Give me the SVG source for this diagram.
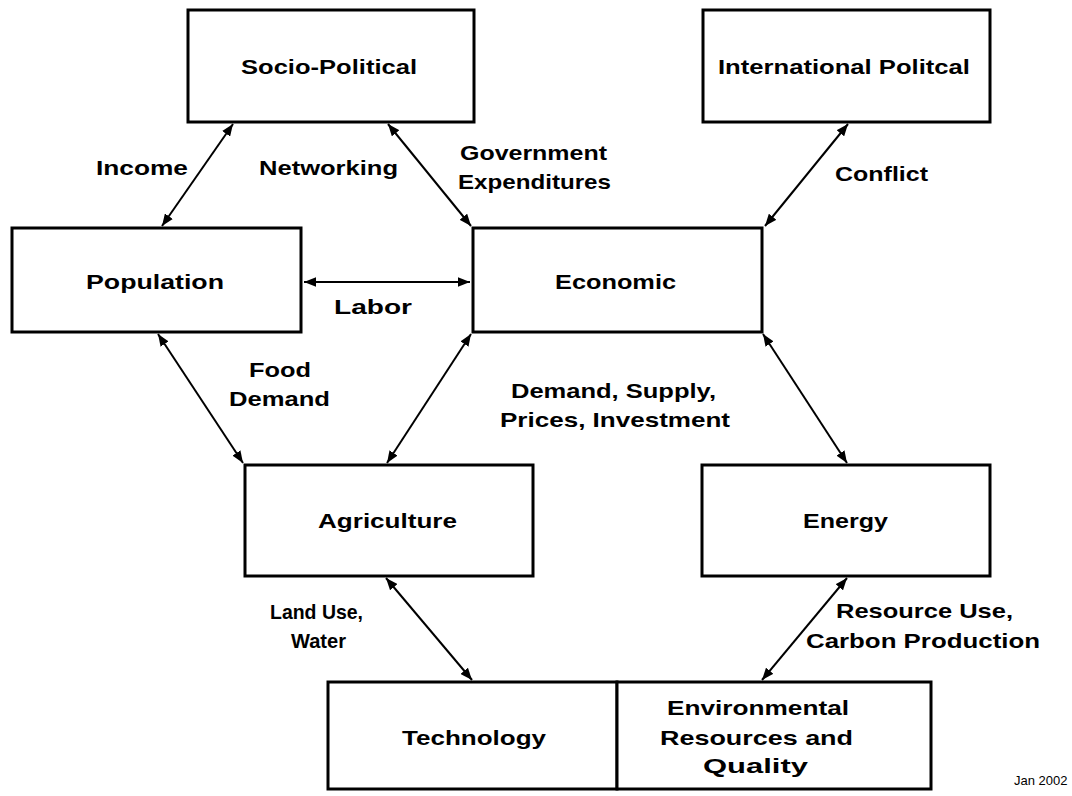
<svg xmlns="http://www.w3.org/2000/svg" width="1072" height="796" viewBox="0 0 1072 796">
  <style>
    .box { fill: #ffffff; stroke: #000000; stroke-width: 3; }
    .lbl { font-family: "Liberation Sans", Arial, sans-serif; font-weight: bold; font-size: 21px; fill: #000000; }
    .edge { stroke: #000000; stroke-width: 2; fill: none; marker-start: url(#ah); marker-end: url(#ah); }
    .note { font-family: "Liberation Sans", Arial, sans-serif; font-size: 13px; fill: #000000; }
  </style>
  <defs>
    <marker id="ah" viewBox="0 0 10 8" refX="10" refY="4" markerWidth="12" markerHeight="10" markerUnits="userSpaceOnUse" orient="auto-start-reverse">
      <path d="M0,0 L10,4 L0,8 Z" fill="#000000"/>
    </marker>
  </defs>
  <rect width="1072" height="796" fill="#ffffff"/>

  <g id="connectors">
    <line class="edge" x1="233" y1="124" x2="162" y2="226"/>
    <line class="edge" x1="388" y1="124" x2="471" y2="226"/>
    <line class="edge" x1="848" y1="124" x2="765" y2="226"/>
    <line class="edge" x1="304" y1="282" x2="470" y2="282"/>
    <line class="edge" x1="158" y1="334" x2="243" y2="463"/>
    <line class="edge" x1="471" y1="334" x2="387" y2="463"/>
    <line class="edge" x1="763" y1="334" x2="847" y2="463"/>
    <line class="edge" x1="386" y1="578" x2="472" y2="680"/>
    <line class="edge" x1="847" y1="578" x2="762" y2="680"/>
  </g>

  <g id="edge-labels">
    <text class="lbl" x="96" y="175" textLength="92" lengthAdjust="spacingAndGlyphs">Income</text>
    <text class="lbl" x="259" y="175" textLength="139" lengthAdjust="spacingAndGlyphs">Networking</text>
    <text class="lbl" x="460" y="160" textLength="147" lengthAdjust="spacingAndGlyphs">Government</text>
    <text class="lbl" x="458" y="189" textLength="153" lengthAdjust="spacingAndGlyphs">Expenditures</text>
    <text class="lbl" x="835" y="181" textLength="93" lengthAdjust="spacingAndGlyphs">Conflict</text>
    <text class="lbl" x="334" y="314" textLength="78" lengthAdjust="spacingAndGlyphs">Labor</text>
    <text class="lbl" x="249" y="377" textLength="62" lengthAdjust="spacingAndGlyphs">Food</text>
    <text class="lbl" x="229" y="406" textLength="101" lengthAdjust="spacingAndGlyphs">Demand</text>
    <text class="lbl" x="511" y="398" textLength="205" lengthAdjust="spacingAndGlyphs">Demand, Supply,</text>
    <text class="lbl" x="500" y="427" textLength="230" lengthAdjust="spacingAndGlyphs">Prices, Investment</text>
    <text class="lbl" x="270" y="619" textLength="93" lengthAdjust="spacingAndGlyphs">Land Use,</text>
    <text class="lbl" x="291" y="648" textLength="55" lengthAdjust="spacingAndGlyphs">Water</text>
    <text class="lbl" x="836" y="618" textLength="177" lengthAdjust="spacingAndGlyphs">Resource Use,</text>
    <text class="lbl" x="806" y="648" textLength="234" lengthAdjust="spacingAndGlyphs">Carbon Production</text>
  </g>

  <g id="socio-political">
    <rect class="box" x="188" y="10" width="286" height="112"/>
    <text class="lbl" x="241" y="74" textLength="176" lengthAdjust="spacingAndGlyphs">Socio-Political</text>
  </g>
  <g id="international-political">
    <rect class="box" x="703" y="10" width="287" height="112"/>
    <text class="lbl" x="718" y="74" textLength="252" lengthAdjust="spacingAndGlyphs">International Politcal</text>
  </g>
  <g id="population">
    <rect class="box" x="12" y="228" width="289" height="104"/>
    <text class="lbl" x="86" y="289" textLength="138" lengthAdjust="spacingAndGlyphs">Population</text>
  </g>
  <g id="economic">
    <rect class="box" x="473" y="228" width="289" height="104"/>
    <text class="lbl" x="555" y="289" textLength="121" lengthAdjust="spacingAndGlyphs">Economic</text>
  </g>
  <g id="agriculture">
    <rect class="box" x="245" y="465" width="288" height="111"/>
    <text class="lbl" x="318" y="528" textLength="139" lengthAdjust="spacingAndGlyphs">Agriculture</text>
  </g>
  <g id="energy">
    <rect class="box" x="702" y="465" width="288" height="111"/>
    <text class="lbl" x="803" y="528" textLength="85" lengthAdjust="spacingAndGlyphs">Energy</text>
  </g>
  <g id="technology">
    <rect class="box" x="328" y="682" width="289" height="107"/>
    <text class="lbl" x="402" y="745" textLength="144" lengthAdjust="spacingAndGlyphs">Technology</text>
  </g>
  <g id="environmental">
    <rect class="box" x="617" y="682" width="314" height="107"/>
    <text class="lbl" x="667" y="715" textLength="182" lengthAdjust="spacingAndGlyphs">Environmental</text>
    <text class="lbl" x="660" y="745" textLength="193" lengthAdjust="spacingAndGlyphs">Resources and</text>
    <text class="lbl" x="703" y="773" textLength="105" lengthAdjust="spacingAndGlyphs">Quality</text>
  </g>

  <text class="note" x="1014" y="785">Jan 2002</text>
</svg>
